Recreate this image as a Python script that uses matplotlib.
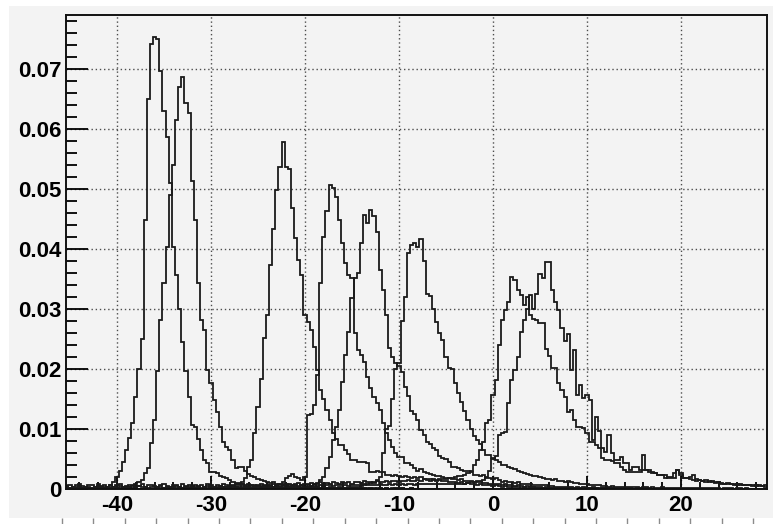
import numpy as np
import matplotlib
matplotlib.use("Agg")
import matplotlib.pyplot as plt
from matplotlib.patches import Rectangle
from matplotlib.ticker import MultipleLocator

plt.rcParams['font.family'] = ['Liberation Sans', 'DejaVu Sans']

# binning: 225 bins of width 1/3 from -45.5
n_bins = 225
x_lo = -45.5
bin_w = 1.0 / 3.0

# bin contents in units of 1e-4
# each histogram: first bin of the core, core values, left tail (ends at core), right tail (starts after core)
h1_start = 10
h1_core = [2, 2, 3, 3, 6, 12, 20, 30, 45, 65, 85, 110, 154, 200, 250, 448, 650, 741, 754, 750,
           696, 630, 586, 510, 404, 357, 300, 245, 196, 154, 107, 104, 84, 65, 48, 43, 29, 28, 27, 22,
           20, 18, 15, 12, 10, 10, 8, 7, 8, 6, 5]
h1_left = [1, 2, 1, 2, 3, 1, 2, 2, 1, 2]
h1_right = [6, 5, 5, 4, 5, 3, 4, 4, 3, 3, 4, 2, 3, 3, 2, 3, 2, 2, 3, 1, 2, 2, 1, 2, 1, 2, 1, 1, 2, 1,
            1, 1, 0, 1, 1, 0, 1, 1, 0, 1, 0, 1, 0, 0, 1, 0, 1, 0, 0, 1]

h2_start = 18
h2_core = [2, 3, 4, 5, 8, 12, 15, 27, 35, 77, 115, 196, 282, 343, 404, 490, 540, 615, 670, 687,
           644, 627, 514, 448, 343, 282, 265, 198, 177, 148, 129, 104, 79, 70, 65, 48, 35, 37, 37, 30,
           25, 22, 20, 16, 15, 14, 12, 10, 11, 9, 8, 7, 8, 6, 5, 6, 4, 5, 4, 3, 4, 3, 3, 2]
h2_left = [1, 1, 2, 1, 1, 2, 1, 1, 0, 1, 1, 2, 1, 1, 1, 0, 1, 1]
h2_right = [3, 2, 3, 2, 2, 3, 1, 2, 2, 1, 2, 1, 1, 2, 1, 1, 0, 1, 1, 0, 1, 0, 1, 1, 0, 1, 0, 0, 1, 0]

h3_start = 50
h3_core = [3, 4, 5, 6, 8, 9, 12, 18, 37, 48, 93, 137, 184, 251, 290, 373, 434, 498, 537, 579,
           537, 533, 468, 418, 382, 357, 290, 278, 265, 237, 198, 165, 150, 132, 115, 93, 84, 73, 73, 65,
           58, 48, 48, 45, 45, 45, 43, 29, 29, 30, 28, 29, 23, 24, 22, 23, 22, 20, 21, 20,
           19, 20, 18, 20, 17, 16, 17, 15, 14, 15, 13, 14, 12, 12, 11, 10, 11, 9, 10, 8,
           8, 7, 8, 6, 7, 6, 5, 6, 5, 4, 5, 4, 4, 3]
h3_left = [1, 2, 1, 1, 2, 1, 0, 1, 2, 1, 1, 1, 2, 0, 1, 1, 1, 2, 1, 1]
h3_right = [3, 2, 3, 2, 2, 3, 2, 1, 2, 2, 1, 2, 1, 1, 2, 1, 1, 1, 0, 1, 1, 0, 1, 1, 0, 1]

h4_start = 66
h4_core = [3, 5, 8, 12, 18, 22, 25, 20, 18, 15, 20, 123, 125, 140, 190, 344, 420, 464, 507, 501,
           487, 448, 410, 377, 357, 352, 260, 232, 223, 212, 187, 168, 154, 143, 132, 110, 93, 82, 70, 60,
           54, 54, 43, 43, 40, 35, 30, 33, 28, 26, 25, 24, 22, 21, 20, 18, 19, 17, 16, 15,
           16, 14, 13, 14, 12, 11, 12, 10, 10, 9, 9, 8, 8, 7, 8, 6, 6, 5, 6, 5, 4, 5, 4, 4, 3]
h4_left = [1, 0, 1, 1, 2, 1, 1, 0, 1, 2, 1, 1, 0, 1, 1, 1, 2, 1, 0, 1]
h4_right = [3, 2, 3, 2, 2, 1, 2, 2, 1, 2, 1, 1, 2, 1, 1, 0, 1, 1, 1, 0, 1, 0, 1, 1]

h5_start = 76
h5_core = [3, 4, 5, 8, 10, 15, 20, 35, 54, 82, 104, 132, 179, 223, 262, 318, 352, 360, 410, 456,
           443, 465, 455, 429, 365, 332, 290, 235, 220, 210, 205, 195, 170, 155, 130, 125, 115, 98, 90, 79,
           75, 68, 65, 55, 51, 50, 45, 37, 37, 35, 32, 30, 30, 28, 23, 23, 22, 23, 18, 18,
           17, 18, 15, 12, 13, 12, 11, 10, 11, 9, 9, 8, 8, 7, 7, 6, 7, 6, 5, 5, 4]
h5_left = [2, 1, 2, 3, 1, 2, 2, 1, 3, 2, 1, 2, 2, 1, 2, 3, 2, 1, 2, 2, 3, 1, 2, 2, 1, 2, 3, 2, 2, 1]
h5_right = [4, 3, 4, 3, 3, 2, 3, 2, 3, 2, 2, 3, 2, 1, 2, 2, 1, 2, 1, 1, 2, 1, 1, 1, 0, 1, 1, 0, 1]

h6_start = 92
h6_core = [3, 4, 5, 6, 8, 10, 12, 15, 20, 60, 100, 105, 150, 200, 210, 280, 320, 393, 407, 410,
           404, 416, 380, 325, 322, 300, 279, 260, 248, 220, 201, 200, 176, 160, 145, 130, 115, 100, 88, 82,
           75, 65, 57, 56, 52, 48, 45, 40, 40, 37, 35, 33, 30, 29, 27, 25, 24, 22, 21, 20,
           19, 17, 16, 15, 16, 14, 13, 12, 13, 11, 10, 10, 9, 8, 9, 7, 7, 6, 6, 5]
h6_left = [1, 2, 1, 1, 2, 3, 1, 2, 1, 2, 2, 1, 3, 1, 2, 1, 2, 1, 1, 2, 3, 2, 1, 2, 2, 1, 2, 1, 2, 3]
h6_right = [5, 4, 5, 4, 4, 3, 4, 3, 3, 4, 3, 2, 3, 3, 2, 3, 2, 2, 3, 2, 2, 1, 2, 2, 1, 2, 1, 2, 1, 1,
            2, 1, 1, 1, 2, 1, 1, 0, 1, 1, 1, 0, 1, 1, 0, 1]

h7_start = 120
h7_core = [16, 17, 18, 19, 20, 21, 22, 24, 26, 30, 40, 48, 65, 79, 110, 115, 157, 182, 240, 282,
           298, 312, 354, 348, 332, 323, 307, 320, 290, 284, 282, 276, 276, 234, 221, 201, 201, 176, 165, 154,
           129, 132, 115, 104, 104, 101, 93, 79, 79, 73, 68, 51, 48, 48, 46, 43, 43, 37, 32, 29,
           29, 29, 29, 29, 32, 32, 32, 26, 26, 23, 23, 23, 18, 18, 18, 32, 26, 18, 18, 17,
           15, 14, 15, 13, 12, 13, 11, 10, 11, 9, 9, 8, 9, 7, 8, 7, 6, 7, 6, 5,
           6, 5, 5, 4, 5]
h7_left = [5, 7, 4, 6, 8, 5, 3, 6, 7, 4, 8, 5, 6, 4, 7, 3, 6, 8, 4, 5,
           7, 6, 3, 5, 8, 4, 6, 7, 5, 4, 6, 9, 5, 3, 7, 6, 4, 8, 5, 6,
           4, 7, 5, 6, 3, 8, 6, 4, 7, 5, 9, 6, 4, 5, 7, 6, 8, 5, 4, 7,
           6, 5, 8, 6, 7, 5, 9, 6, 7, 8, 6, 9, 7, 8, 10, 7, 9, 8, 10, 9,
           8, 11, 9, 10, 8, 11, 10, 9, 12, 10, 11, 9, 12, 11, 10, 13, 11, 12, 10, 13,
           12, 11, 13, 12, 14, 13, 12, 14, 13, 15, 14, 13, 15, 14, 16, 15, 14, 16, 15, 16]
h7_right = []

h8_start = 126
h8_core = [8, 9, 10, 11, 12, 13, 14, 15, 20, 30, 50, 55, 90, 93, 95, 143, 182, 198, 220, 262,
           282, 300, 323, 300, 325, 358, 352, 379, 379, 332, 312, 298, 268, 246, 259, 198, 232, 157, 173, 151,
           157, 148, 82, 120, 96, 68, 62, 90, 60, 48, 48, 54, 43, 43, 32, 37, 37, 32, 57, 32,
           29, 29, 26, 23, 23, 18, 20, 20, 26, 32, 23, 18, 18, 20, 23, 16, 15, 14, 15, 12,
           13, 11, 12, 10, 9, 10, 8, 9, 7, 8, 6, 7, 6, 7, 5, 6, 5, 6, 5]
h8_left = [3, 2, 4, 3, 5, 2, 3, 4, 2, 3, 5, 3, 2, 4, 3, 4, 2, 5, 3, 3,
           4, 2, 3, 5, 3, 4, 2, 3, 4, 3, 5, 2, 4, 3, 3, 5, 4, 2, 3, 4,
           5, 3, 4, 2, 4, 5, 3, 4, 3, 5, 4, 3, 5, 4, 3, 4, 5, 3, 4, 5,
           4, 5, 3, 5, 4, 6, 4, 5, 4, 6, 5, 4, 6, 5, 5, 6, 4, 6, 5, 6,
           5, 7, 5, 6, 6, 5, 7, 6, 6, 7, 5, 7, 6, 7, 6, 8, 6, 7, 7, 6,
           8, 7, 7, 8, 6, 8, 7, 8, 7, 8, 8, 7, 9, 8, 8, 9, 8, 9, 8, 9, 9, 8, 9, 8, 9, 8]
h8_right = []

xtick_vals = [-40, -30, -20, -10, 0, 10, 20]
xtick_labels = ['-40', '-30', '-20', '-10', '0', '10', '20']
ytick_vals = [0, 0.01, 0.02, 0.03, 0.04, 0.05, 0.06, 0.07]
ytick_labels = ['0', '0.01', '0.02', '0.03', '0.04', '0.05', '0.06', '0.07']


def build(start, core, left, right):
    c = np.zeros(n_bins)
    core = np.asarray(core, float)
    end = min(start + len(core), n_bins)
    c[start:end] = core[:end - start]
    left = np.asarray(left, float)
    if len(left) > start:
        left = left[len(left) - start:]
    c[start - len(left):start] = left
    right = np.asarray(right, float)[:n_bins - end]
    c[end:end + len(right)] = right
    return c * 1e-4


hists = [
    build(h1_start, h1_core, h1_left, h1_right),
    build(h2_start, h2_core, h2_left, h2_right),
    build(h3_start, h3_core, h3_left, h3_right),
    build(h4_start, h4_core, h4_left, h4_right),
    build(h5_start, h5_core, h5_left, h5_right),
    build(h6_start, h6_core, h6_left, h6_right),
    build(h7_start, h7_core, h7_left, h7_right),
    build(h8_start, h8_core, h8_left, h8_right),
]
edges = x_lo + bin_w * np.arange(n_bins + 1)

W, H = 773, 524
fig = plt.figure(figsize=(W / 100, H / 100), dpi=100)
fig.patch.set_facecolor('white')
# grey canvas
fig.add_artist(Rectangle((9 / W, 6 / H), 1 - 9 / W, (518 - 6) / H, transform=fig.transFigure,
                         facecolor='#f3f3f3', edgecolor='none', zorder=0))

ax = fig.add_axes([66 / W, 35 / H, 701 / W, 474 / H])
ax.set_facecolor('#f3f3f3')

for h in hists:
    ax.stairs(h, edges, color='#1a1a1a', linewidth=1.3, zorder=3)

ax.set_xlim(-45.43, 29.15)
ax.set_ylim(0, 0.079)

ax.set_xticks(xtick_vals)
ax.set_xticklabels(xtick_labels)
ax.set_yticks(ytick_vals)
ax.set_yticklabels(ytick_labels)
ax.xaxis.set_minor_locator(MultipleLocator(2))
ax.yaxis.set_minor_locator(MultipleLocator(0.002))

ax.grid(True, which='major', color='0.3', linestyle=(0, (1, 2)), linewidth=1.0, zorder=1)
ax.set_axisbelow(True)

for s in ax.spines.values():
    s.set_linewidth(1.4)
    s.set_color('#111111')
    s.set_zorder(4)

ax.tick_params(axis='y', which='major', direction='in', length=16, width=1.3, pad=3,
               labelsize=16, right=False)
ax.tick_params(axis='y', which='minor', direction='in', length=8, width=1.3, right=False)
ax.tick_params(axis='x', which='major', direction='in', length=9.5, width=1.3, pad=4.5,
               labelsize=16, top=False)
ax.tick_params(axis='x', which='minor', direction='in', length=5, width=1.3, top=False)
for lab in ax.get_xticklabels() + ax.get_yticklabels():
    lab.set_fontweight('bold')

# small tick strip at the very bottom of the picture
ax2 = fig.add_axes([62 / W, 0, (753 - 62) / W, 6 / H])
ax2.set_xlim(0, 22)
ax2.set_ylim(0, 1)
ax2.set_xticks(np.arange(23))
ax2.set_yticks([])
ax2.patch.set_visible(False)
for s in ax2.spines.values():
    s.set_visible(False)
ax2.tick_params(axis='x', direction='in', length=4.5, width=1.0, color='0.55', labelbottom=False)

fig.savefig('out.png', dpi=100, facecolor='white')
